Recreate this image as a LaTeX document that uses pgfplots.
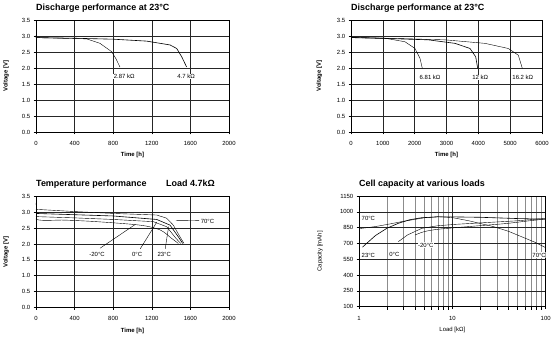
\documentclass[border=0pt]{standalone}
\usepackage{fontspec}
\setmainfont{Liberation Sans}
\usepackage{pgfplots}
\pgfplotsset{compat=1.18}
\tikzset{lab/.style={font=\fontsize{6}{7}\selectfont, inner sep=0.5bp, fill=white}}
\pgfplotsset{
  myax/.style={
    scale only axis,
    anchor=south west,
    axis line style={black, line width=0.6bp},
    grid=major,
    major grid style={black!85, line width=0.5bp},
    tick align=outside,
    major tick length=2.5bp,
    tick style={black, line width=0.5bp},
    xtick pos=left, ytick pos=left,
    scaled ticks=false,
    /pgf/number format/assume math mode=true,
    /pgf/number format/1000 sep={},
    tick label style={font=\fontsize{6}{7}\selectfont},
    xticklabel style={anchor=center, yshift=-9bp},
    yticklabel style={anchor=east, inner sep=0pt, xshift=-3bp},
    title style={font=\bfseries\fontsize{9}{10}\selectfont, anchor=base west, at={(0,1)}, yshift=4bp, inner sep=0pt},
    label style={font=\bfseries\fontsize{6}{7}\selectfont},
    cycle list={{black, line width=0.6bp, mark=none, smooth, tension=0.5}},
  },
  volt/.style={ymin=0, ymax=3.5, ytick={0,0.5,1,1.5,2,2.5,3,3.5},
    yticklabel style={/pgf/number format/.cd, fixed, fixed zerofill, precision=1}},
}
\begin{document}
\begin{tikzpicture}
\useasboundingbox (0,0) rectangle (555bp,337bp);
% ---------- Plot 1
\begin{axis}[myax, volt, at={(36bp,205bp)}, width=193bp, height=112bp,
  xmin=0, xmax=2000, xtick={0,400,800,1200,1600,2000},
  title={Discharge performance at 23°C},
  xlabel={Time [h]}, ylabel={Voltage [V]},
  xlabel style={at={(axis description cs:0.5,-0.205)}, anchor=center},
  ylabel style={at={(axis description cs:-0.155,0.5)}, anchor=center}]
\addplot coordinates {(0,3.03) (0,2.95) (250,2.93) (525,2.91) (663,2.77) (784,2.51) (830,2.28) (870,2.03)};
\addplot coordinates {(0,2.95) (400,2.93) (801,2.90) (1147,2.84) (1389,2.72) (1458,2.61) (1510,2.35) (1561,2.03)};
\node[lab, anchor=west] at (axis cs:800,1.73) {2.87 kΩ};
\node[lab, anchor=west] at (axis cs:1458,1.73) {4.7 kΩ};
\end{axis}
% ---------- Plot 2
\begin{axis}[myax, volt, at={(351bp,205bp)}, width=191bp, height=112bp,
  xmin=0, xmax=6000, xtick={0,1000,2000,3000,4000,5000,6000},
  title={Discharge performance at 23°C},
  xlabel={Time [h]}, ylabel={Voltage [V]},
  xlabel style={at={(axis description cs:0.5,-0.205)}, anchor=center},
  ylabel style={at={(axis description cs:-0.166,0.5)}, anchor=center}]
\addplot coordinates {(0,3.29) (0,2.95) (1068,2.93) (1696,2.82) (2010,2.61) (2168,2.30) (2240,1.99)};
\addplot coordinates {(0,2.95) (1200,2.92) (2429,2.88) (3267,2.77) (3738,2.61) (3917,2.35) (3980,1.99)};
\addplot coordinates {(0,2.96) (1500,2.92) (2953,2.88) (4209,2.77) (4942,2.61) (5256,2.40) (5382,1.99)};
\node[lab, anchor=west] at (axis cs:2136,1.71) {6.81 kΩ};
\node[lab, anchor=west] at (axis cs:3791,1.71) {12 kΩ};
\node[lab, anchor=west] at (axis cs:5049,1.71) {16.2 kΩ};
\end{axis}
% ---------- Plot 3
\begin{axis}[myax, volt, at={(36bp,29.7bp)}, width=193bp, height=110.6bp,
  xmin=0, xmax=2000, xtick={0,400,800,1200,1600,2000},
  title={\makebox[130bp][l]{Temperature performance}Load 4.7kΩ},
  xlabel={Time [h]}, ylabel={Voltage [V]},
  xlabel style={at={(axis description cs:0.5,-0.214)}, anchor=center},
  ylabel style={at={(axis description cs:-0.155,0.5)}, anchor=center}]
% 70 C
\addplot coordinates {(0,3.10) (400,3.03) (801,2.97) (1251,2.92) (1354,2.82) (1423,2.60) (1492,2.23) (1534,2.02)};
% 23 C
\addplot coordinates {(0,2.97) (400,2.93) (801,2.89) (1251,2.78) (1389,2.60) (1475,2.23) (1520,2.02)};
% 0 C
\addplot coordinates {(0,2.87) (400,2.83) (801,2.78) (1216,2.71) (1354,2.55) (1451,2.18) (1500,2.02)};
% -20 C
\addplot coordinates {(0,3.30) (0,2.79) (300,2.76) (629,2.71) (1078,2.60) (1285,2.45) (1406,2.18) (1475,2.02)};
\draw[black, line width=0.4bp] (axis cs:1690,2.75) -- (axis cs:1450,2.74);
\draw[black, line width=0.4bp] (axis cs:664,1.87) -- (axis cs:1028,2.62);
\draw[black, line width=0.4bp] (axis cs:1080,1.85) -- (axis cs:1253,2.70);
\draw[black, line width=0.4bp] (axis cs:1339,1.85) -- (axis cs:1374,2.55);
\node[lab, anchor=west] at (axis cs:1700,2.71) {70°C};
\node[lab] at (axis cs:633,1.66) {-20°C};
\node[lab] at (axis cs:1048,1.66) {0°C};
\node[lab] at (axis cs:1329,1.66) {23°C};
\end{axis}
% ---------- Plot 4
\begin{axis}[myax, at={(359bp,30.3bp)}, width=186.7bp, height=110.7bp,
  xmode=log, xmin=1, xmax=100, xtick={1,10,100}, xticklabels={1,10,100},
  minor xtick={2,3,4,5,6,7,8,9,20,30,40,50,60,70,80,90},
  grid=both, minor grid style={black!45, line width=0.5bp},
  ymin=100, ymax=1150, ytick={100,250,400,550,700,850,1000,1150},
  title={Cell capacity at various loads},
  label style={font=\fontsize{6}{7}\selectfont},
  xlabel={Load [kΩ]}, ylabel={Capacity [mAh]},
  xlabel style={at={(axis description cs:0.5,-0.21)}, anchor=center},
  ylabel style={at={(axis description cs:-0.209,0.5)}, anchor=center}]
% 70 C
\addplot coordinates {(1,840) (1.5,860) (2,880) (3,910) (5,943) (7,954) (10,945) (15,915) (27.5,860) (40,815) (53,770) (75,715) (100,660)};
% 23 C
\addplot coordinates {(1.09,665) (1.5,775) (2,845) (2.64,891) (3.5,925) (4.7,944) (7,952) (10,952) (20,948) (50,936) (100,930)};
% 0 C
\addplot coordinates {(2.64,717) (3.3,780) (4.7,843) (7,868) (10.7,881) (20,895) (50,915) (100,938)};
% -20 C
\addplot coordinates {(3.98,780) (5,812) (7.1,835) (16,862) (36.7,888) (60,910) (100,932)};
\node[lab, anchor=west] at (axis cs:1.05,938) {70°C};
\node[lab, anchor=west] at (axis cs:1.05,590) {23°C};
\node[lab] at (axis cs:2.39,597) {0°C};
\node[lab] at (axis cs:5.2,685) {-20°C};
\node[lab] at (axis cs:85,590) {70°C};
\end{axis}
\end{tikzpicture}
\end{document}
